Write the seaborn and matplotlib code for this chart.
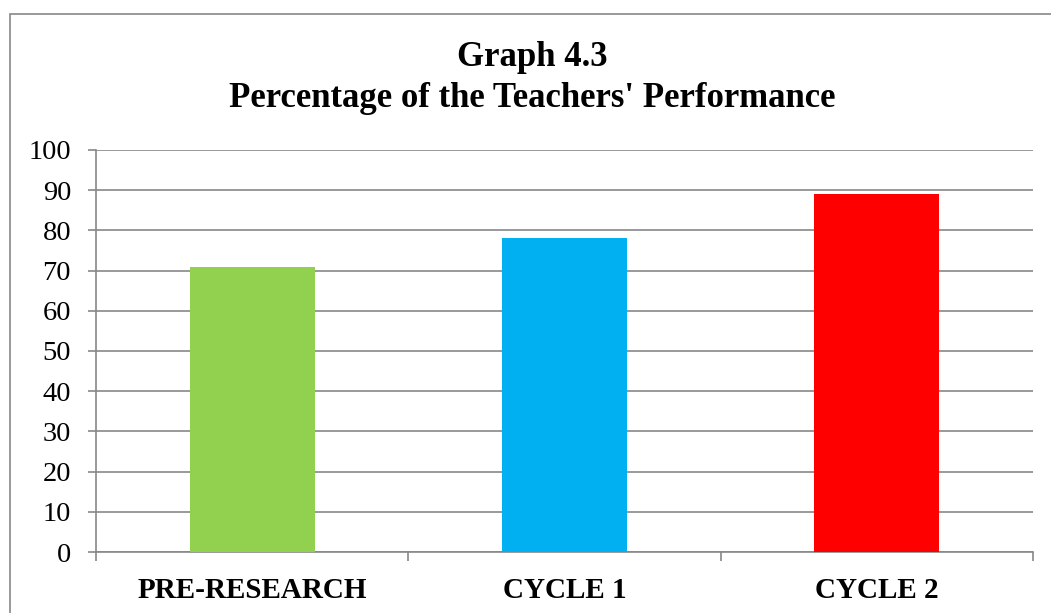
import pandas as pd
import seaborn as sns
import matplotlib.pyplot as plt
from matplotlib.patches import Rectangle

# chart values
stages = ['PRE-RESEARCH', 'CYCLE 1', 'CYCLE 2']
percent = [71, 78, 89]
bar_colors = ['#92D050', '#00B0F0', '#FF0000']
y_ticks = list(range(0, 101, 10))

sns.set_theme(style="white")
plt.rcParams['font.family'] = ['Liberation Serif', 'DejaVu Serif']
plt.rcParams['text.color'] = 'black'

df = pd.DataFrame({'Stage': stages, 'Percent': percent})
grey = '#878787'

fig = plt.figure(figsize=(10.51, 6.13), dpi=100)
ax = fig.add_axes([96 / 1051, 1 - 552 / 613, (1033 - 96) / 1051, (552 - 150) / 613])

sns.barplot(data=df, x='Stage', y='Percent', hue='Stage', palette=bar_colors,
            width=0.4, saturation=1, legend=False, linewidth=0, ax=ax, zorder=3)

ax.set_ylim(0, 100)
ax.set_xlim(-0.5, 2.5)
ax.set_yticks(y_ticks)
ax.set_yticklabels([str(v) for v in y_ticks], fontsize=20.5, color='black')
ax.yaxis.grid(True, color=grey, linewidth=1.2)
ax.set_axisbelow(True)

ax.set_xticks(range(len(stages)))
ax.set_xticklabels(stages, fontsize=21, fontweight='bold', color='black')
ax.set_xticks([-0.5, 0.5, 1.5, 2.5], minor=True)
ax.tick_params(axis='x', which='both', bottom=True)
ax.tick_params(axis='y', which='major', left=True)
ax.tick_params(axis='x', which='major', length=0, pad=18)
ax.tick_params(axis='x', which='minor', length=6.5, width=1.2, color=grey, direction='out')
ax.tick_params(axis='y', length=6, width=1.2, color=grey, direction='out', pad=12)

for side in ['top', 'right']:
    ax.spines[side].set_visible(False)
for side in ['left', 'bottom']:
    ax.spines[side].set_color(grey)
    ax.spines[side].set_linewidth(1.2)
ax.set_xlabel('')
ax.set_ylabel('')

fig.text(532 / 1051, 1 - 66 / 613, 'Graph 4.3',
         ha='center', va='baseline', fontsize=25, fontweight='bold', color='black')
fig.text(532 / 1051, 1 - 107 / 613, "Percentage of the Teachers' Performance",
         ha='center', va='baseline', fontsize=25, fontweight='bold', color='black')

# chart-area border (runs off the right and bottom edges)
top = 1 - 14 / 613
fig.patches.append(Rectangle((10 / 1051, -0.2), 1.2, top + 0.2,
                             transform=fig.transFigure, fill=False,
                             edgecolor=grey, linewidth=1.2))

fig.savefig('out.png', dpi=100)
